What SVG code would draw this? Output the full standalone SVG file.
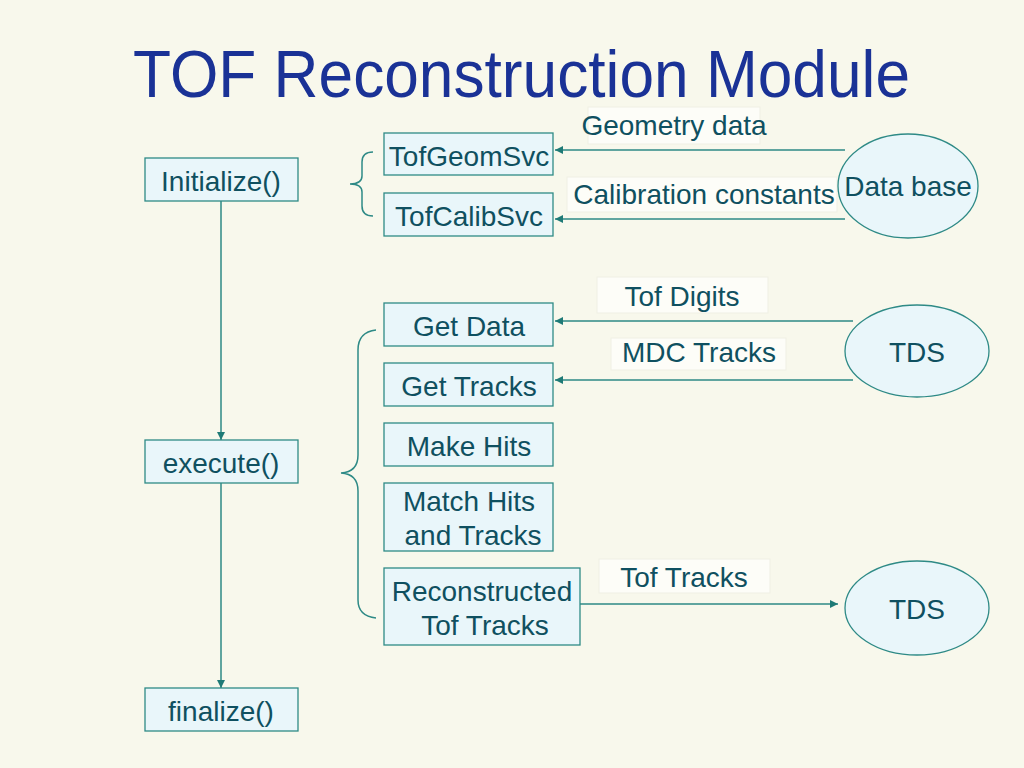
<svg xmlns="http://www.w3.org/2000/svg" width="1024" height="768" viewBox="0 0 1024 768">
<defs>
<style>
.box{fill:#E9F6FA;stroke:#2E8A86;stroke-width:1.3}
.ell{fill:#E9F6FA;stroke:#2E8A86;stroke-width:1.3}
.t{font-family:"Liberation Sans",Arial,sans-serif;font-size:28px;fill:#0F5060;text-anchor:middle}
.lbl{fill:#FDFDF8;stroke:#EFEFE4;stroke-width:1}
.con{stroke:#2E8A86;stroke-width:1.5;fill:none}
</style>
<marker id="ah" viewBox="0 0 10 10" refX="10" refY="5" markerWidth="8" markerHeight="8" markerUnits="userSpaceOnUse" orient="auto">
<path d="M0,0 L10,5 L0,10 z" fill="#1F7A76"/>
</marker>
</defs>
<rect width="1024" height="768" fill="#F8F8EC"/>
<text x="133" y="97" font-family="'Liberation Sans',Arial,sans-serif" font-size="66" fill="#1A3296" textLength="777" lengthAdjust="spacingAndGlyphs">TOF Reconstruction Module</text>

<g id="connectors">
<line class="con" x1="221" y1="201" x2="221" y2="440" marker-end="url(#ah)"/>
<line class="con" x1="221" y1="483" x2="221" y2="688" marker-end="url(#ah)"/>
<line class="con" x1="845" y1="150" x2="555" y2="150" marker-end="url(#ah)"/>
<line class="con" x1="845" y1="219" x2="555" y2="219" marker-end="url(#ah)"/>
<line class="con" x1="853" y1="321" x2="555" y2="321" marker-end="url(#ah)"/>
<line class="con" x1="853" y1="380" x2="555" y2="380" marker-end="url(#ah)"/>
<line class="con" x1="580" y1="604" x2="838" y2="604" marker-end="url(#ah)"/>
<path class="con" d="M373,152 Q362,152 362,162 L362,176 Q362,184 350,184 Q362,184 362,192 L362,206 Q362,216 373,216"/>
<path class="con" d="M376,330 Q358,332 358,350 L358,455 Q358,472 341,473 Q358,474 358,491 L358,600 Q358,616 376,618"/>
</g>

<g id="label-geometry"><rect class="lbl" x="588" y="107" width="172" height="37"/><text class="t" x="674" y="135">Geometry data</text></g>
<g id="label-calibration"><rect class="lbl" x="567" y="177" width="270" height="35"/><text class="t" x="704" y="204">Calibration constants</text></g>
<g id="label-tofdigits"><rect class="lbl" x="597" y="277" width="171" height="36"/><text class="t" x="682" y="306">Tof Digits</text></g>
<g id="label-mdctracks"><rect class="lbl" x="611" y="338" width="175" height="32"/><text class="t" x="699" y="362">MDC Tracks</text></g>
<g id="label-toftracks"><rect class="lbl" x="599" y="559" width="171" height="34"/><text class="t" x="684" y="587">Tof Tracks</text></g>

<g id="initialize"><rect class="box" x="145" y="158" width="153" height="43"/><text class="t" x="221" y="191">Initialize()</text></g>
<g id="execute"><rect class="box" x="145" y="440" width="153" height="43"/><text class="t" x="221" y="473">execute()</text></g>
<g id="finalize"><rect class="box" x="145" y="688" width="153" height="43"/><text class="t" x="221" y="721">finalize()</text></g>

<g id="tofgeomsvc"><rect class="box" x="384" y="133" width="169" height="42"/><text class="t" x="469" y="166">TofGeomSvc</text></g>
<g id="tofcalibsvc"><rect class="box" x="384" y="193" width="169" height="43"/><text class="t" x="469" y="226">TofCalibSvc</text></g>
<g id="getdata"><rect class="box" x="384" y="303" width="169" height="43"/><text class="t" x="469" y="336">Get Data</text></g>
<g id="gettracks"><rect class="box" x="384" y="363" width="169" height="43"/><text class="t" x="469" y="396">Get Tracks</text></g>
<g id="makehits"><rect class="box" x="384" y="423" width="169" height="43"/><text class="t" x="469" y="456">Make Hits</text></g>
<g id="matchhits"><rect class="box" x="384" y="483" width="169" height="68"/><text class="t" x="469" y="511">Match Hits</text><text class="t" x="473" y="545">and Tracks</text></g>
<g id="reconstructed"><rect class="box" x="384" y="568" width="196" height="77"/><text class="t" x="482" y="601">Reconstructed</text><text class="t" x="485" y="635">Tof Tracks</text></g>

<g id="database"><ellipse class="ell" cx="908" cy="186" rx="70" ry="52"/><text class="t" x="908" y="196">Data base</text></g>
<g id="tds1"><ellipse class="ell" cx="917" cy="351" rx="72" ry="46"/><text class="t" x="917" y="362">TDS</text></g>
<g id="tds2"><ellipse class="ell" cx="917" cy="608" rx="72" ry="47"/><text class="t" x="917" y="619">TDS</text></g>
</svg>
